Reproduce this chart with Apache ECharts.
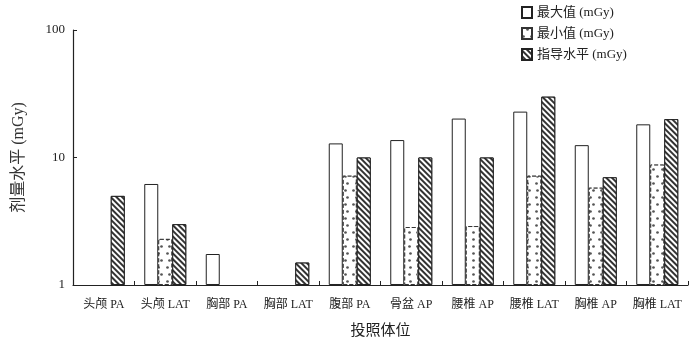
<!DOCTYPE html>
<html><head><meta charset="utf-8">
<script src="https://cdn.jsdelivr.net/npm/echarts@6/dist/echarts.min.js"></script>
<style>html,body{margin:0;padding:0;background:#fff}#c{width:696px;height:342px}</style>
</head><body><div id="c"></div>
<script>
var categories = ['头颅 PA','头颅 LAT','胸部 PA','胸部 LAT','腹部 PA','骨盆 AP','腰椎 AP','腰椎 LAT','胸椎 AP','胸椎 LAT'];
var maxValues = [null, 6.2, 1.75, null, 12.9, 13.7, 20.2, 22.9, 12.5, 18.2];
var minValues = [null, 2.3, null, null, 7.2, 2.85, 2.9, 7.2, 5.8, 8.8];
var guideValues = [5, 3, null, 1.5, 10, 10, 10, 30, 7, 20];
var seriesNames = ['最大值 (mGy)','最小值 (mGy)','指导水平 (mGy)'];
var yTicks = [1, 10, 100];

var FONT = "'Liberation Serif','Noto Sans CJK SC',serif";
var chart = echarts.init(document.getElementById('c'));
chart.setOption({
  animation:false,
  backgroundColor:'#fff',
  grid:{left:73, right:8, top:30, bottom:57},
  legend:{
    orient:'vertical', left:516, top:1, itemWidth:10, itemHeight:11, itemGap:8, icon:'rect',
    textStyle:{fontFamily:FONT, fontSize:13, color:'#222'},
    data: seriesNames
  },
  xAxis:{
    type:'category', data:categories,
    name:'投照体位', nameLocation:'middle', nameGap:37,
    nameTextStyle:{fontFamily:"'Noto Sans CJK SC',sans-serif", fontSize:15, color:'#222'},
    axisLine:{lineStyle:{color:'#222', width:1.2}},
    axisTick:{show:true, inside:true, length:4, alignWithLabel:false, interval:0, lineStyle:{color:'#222'}},
    axisLabel:{fontFamily:FONT, fontSize:12, color:'#222', margin:14, interval:0}
  },
  yAxis:{
    type:'log', logBase:10, min:1, max:100,
    name:'剂量水平 (mGy)', nameLocation:'middle', nameGap:46,
    nameTextStyle:{fontFamily:FONT, fontSize:16, color:'#333'},
    axisLine:{show:true, lineStyle:{color:'#222', width:1.2}},
    axisTick:{show:true, inside:true, length:4, lineStyle:{color:'#222'}},
    axisLabel:{fontFamily:FONT, fontSize:13, color:'#222', margin:8,
      formatter:function(v){return yTicks.indexOf(Math.round(v))>=0?String(Math.round(v)):'';}},
    splitLine:{show:false}
  },
  series:[
    {name:seriesNames[0], type:'bar', data:maxValues, barWidth:14, barGap:'0%',
     itemStyle:{color:'#fff', borderColor:'#222', borderWidth:1}},
    {name:seriesNames[1], type:'bar', data:minValues, barWidth:14, barGap:'0%',
     itemStyle:{color:'#fff', borderColor:'#333', borderWidth:1, borderType:'dashed',
       decal:{symbol:'circle', symbolSize:0.9, color:'#555', backgroundColor:'#fff',
         dashArrayX:[[2.5,5],[0,3.75,2.5,1.25]], dashArrayY:[2.5,3.5], rotation:0}}},
    {name:seriesNames[2], type:'bar', data:guideValues, barWidth:14, barGap:'0%',
     itemStyle:{color:'#fff', borderColor:'#222', borderWidth:1,
       decal:{symbol:'rect', symbolSize:1, color:'#333', backgroundColor:'#fff',
         dashArrayX:[1,0], dashArrayY:[1.2,2], rotation:Math.PI/4}}}
  ]
});
</script></body></html>
